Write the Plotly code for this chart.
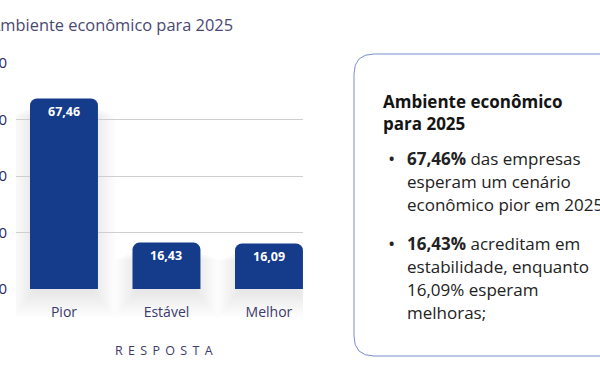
import plotly.graph_objects as go

categories = ["Pior", "Estável", "Melhor"]
values = [67.46, 16.43, 16.09]
y_ticks = [0, 20, 40, 60, 80]
title_text = "Ambiente econômico para 2025"
axis_title = "RESPOSTA"
box_title = ["Ambiente econômico", "para 2025"]
bullet1 = ["<b>67,46%</b> das empresas", "esperam um cenário", "econômico pior em 2025"]
bullet2 = ["<b>16,43%</b> acreditam em", "estabilidade, enquanto", "16,09% esperam", "melhoras;"]

W, H = 600, 380
L, R, T, B = 16, 297, 63, 91
PW, PH = W - L - R, H - T - B
FONT = "Open Sans"
BAR = "#153b8b"
NAVY = "#3b3a6b"
BAR_W = 0.663
Y_MAX = 80


def px(x):
    return (x - L) / PW


def py(y):
    return (H - B - y) / PH


fig = go.Figure()
fig.add_trace(go.Bar(
    x=categories, y=values, width=BAR_W, marker=dict(color=BAR, line=dict(width=0)),
    hoverinfo="skip",
))

# soft shadow under bars (stacked translucent layers)
unit = PW / (2.332 + 0.468)
for i, v in enumerate(values):
    for k in range(12):
        g = (2 * k - 4) / unit
        fig.add_shape(
            type="rect", xref="x", yref="paper", layer="below",
            x0=i - BAR_W / 2 - g, x1=i + BAR_W / 2 + g,
            y0=py(292 + 2.3 * k), y1=v / Y_MAX - 0.03 - 0.004 * k,
            fillcolor="rgba(20,30,60,0.009)", line=dict(width=0),
        )

annotations = []
for c, v in zip(categories, values):
    annotations.append(dict(
        x=c, y=v, xref="x", yref="y", text=f"<b>{v:.2f}</b>".replace(".", ","),
        showarrow=False, yshift=-13, yanchor="middle",
        font=dict(family=FONT, size=12.5, color="white"),
    ))

annotations.append(dict(
    x=px(-12), y=py(25), xref="paper", yref="paper", text=title_text,
    xanchor="left", yanchor="middle", showarrow=False,
    font=dict(family=FONT, size=16.4, color="#4a4873"),
))
annotations.append(dict(
    x=px(164), y=py(350), xref="paper", yref="paper",
    text=" \u2009".join(list(axis_title)),
    xanchor="center", yanchor="middle", showarrow=False,
    font=dict(family=FONT, size=12.5, color=NAVY),
))

for i, t in enumerate(box_title):
    annotations.append(dict(
        x=px(381), y=py(101 + 22 * i), xref="paper", yref="paper", text=f"<b>{t}</b>",
        xanchor="left", yanchor="middle", showarrow=False,
        font=dict(family=FONT, size=17, color="#141414"),
    ))

for start, lines in ((158, bullet1), (243, bullet2)):
    annotations.append(dict(
        x=px(392), y=py(start), xref="paper", yref="paper", text="<b>•</b>",
        xanchor="center", yanchor="middle", showarrow=False,
        font=dict(family=FONT, size=14, color="#222222"),
    ))
    for i, t in enumerate(lines):
        annotations.append(dict(
            x=px(405), y=py(start + 23 * i), xref="paper", yref="paper", text=t,
            xanchor="left", yanchor="middle", showarrow=False,
            font=dict(family=FONT, size=17, color="#222222"),
        ))

# rounded box
x0, x1, y0, y1, r = 354, 640, 54, 356, 20
path = (f"M {px(x0 + r)},{py(y0)} L {px(x1)},{py(y0)} L {px(x1)},{py(y1)} "
        f"L {px(x0 + r)},{py(y1)} Q {px(x0)},{py(y1)} {px(x0)},{py(y1 - r)} "
        f"L {px(x0)},{py(y0 + r)} Q {px(x0)},{py(y0)} {px(x0 + r)},{py(y0)} Z")
fig.add_shape(type="path", path=path, xref="paper", yref="paper",
              line=dict(color="#7a8fcf", width=1), fillcolor="rgba(0,0,0,0)")

fig.update_layout(
    width=W, height=H, margin=dict(l=L, r=R, t=T, b=B, autoexpand=False),
    paper_bgcolor="white", plot_bgcolor="white",
    barcornerradius=7, showlegend=False, annotations=annotations,
    font=dict(family=FONT, color=NAVY),
)
fig.update_xaxes(
    range=[-0.468, 2.332], showgrid=False, zeroline=False, showline=False, automargin=False,
    ticks="", tickfont=dict(family=FONT, size=14, color=NAVY), ticklabelstandoff=13,
)
fig.update_yaxes(
    range=[0, Y_MAX], tickvals=y_ticks, showgrid=True, gridcolor="#cfcfcf", gridwidth=1,
    zeroline=False, showline=False, ticks="", automargin=False,
    tickfont=dict(family=FONT, size=15, color="#2b2a5c"), ticklabelstandoff=8,
)

fig.write_html("out.html", config={"displayModeBar": False},
               post_script="document.body.style.margin='0';")
